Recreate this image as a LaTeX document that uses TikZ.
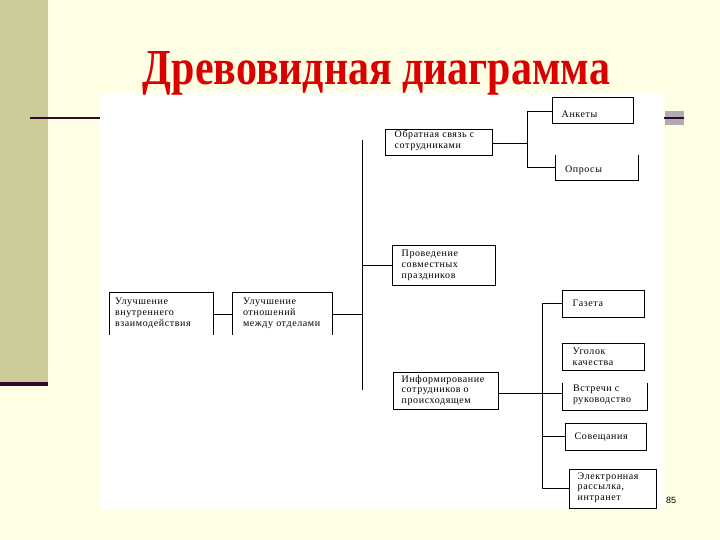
\documentclass[tikz,border=0pt]{standalone}
\usepackage{graphicx}
\usepackage{fontspec}
\setmainfont{Liberation Serif}
\newfontfamily\boxfont[LetterSpace=6]{Liberation Serif}
\newfontfamily\numfont{Liberation Sans}
\definecolor{bgyellow}{RGB}{255,255,229}
\definecolor{oliveC}{RGB}{204,204,153}
\definecolor{darkbar}{RGB}{45,10,45}
\definecolor{graybar}{RGB}{178,170,178}
\definecolor{titlered}{RGB}{218,0,0}
\tikzset{
  box/.style={draw=black, line width=1pt, inner sep=0pt},
  obox/.style={inner sep=0pt},
  open/.style={draw=black, line width=1pt},
  conn/.style={draw=black, line width=0.9pt},
  lbl/.style={font=\boxfont\fontsize{10}{11}\selectfont, align=left, inner sep=0pt, anchor=west},
  ttl/.style={font=\bfseries, text=titlered, inner sep=0pt}
}
\begin{document}
\begin{tikzpicture}[x=1pt,y=-1pt]
\useasboundingbox (0,0) rectangle (720,540);
% slide background
\fill[bgyellow] (0,0) rectangle (720,540);
\fill[oliveC] (0,0) rectangle (48,382);
\fill[darkbar] (0,382) rectangle (48,386);
\fill[graybar] (665,111) rectangle (684,125);
\draw[darkbar, line width=2.5pt] (30,118) -- (684,118);
\fill[white] (100,93) rectangle (664,510);
% title
\node[ttl, anchor=base] (title) at (376.5,85) {\resizebox{467pt}{33pt}{Древовидная диаграмма}};

% boxes
\node[obox, minimum width=103pt, minimum height=42pt] (u1) at (161.5,314) {};
\node[obox, minimum width=99pt, minimum height=42pt] (u2) at (282.5,314) {};
\node[box, minimum width=107pt, minimum height=26pt] (obr) at (438.5,143) {};
\node[box, minimum width=81pt, minimum height=26pt] (ank) at (592.5,111) {};
\node[obox, minimum width=82pt, minimum height=25pt] (opr) at (597,167.5) {};
\node[box, minimum width=103pt, minimum height=40pt] (prov) at (443.5,265) {};
\node[box, minimum width=82pt, minimum height=27pt] (gaz) at (603,303.5) {};
\node[box, minimum width=82pt, minimum height=27pt] (ugol) at (603,356.5) {};
\node[obox, minimum width=84pt, minimum height=27pt] (vstr) at (605,396.5) {};
\node[box, minimum width=105pt, minimum height=37pt] (inf) at (445.5,390.5) {};
\node[box, minimum width=81pt, minimum height=27pt] (sov) at (605.5,436.5) {};
\node[box, minimum width=87pt, minimum height=39pt] (el) at (612.5,488.5) {};

% open boxes (cropped sides)
\draw[open] (u1.south west) -- (u1.north west) -- (u1.north east) -- (u1.south east);
\draw[open] (u2.south west) -- (u2.north west) -- (u2.north east) -- (u2.south east);
\draw[open] (opr.north west) -- (opr.south west) -- (opr.south east) -- (opr.north east);
\draw[open] (vstr.north west) -- (vstr.south west) -- (vstr.south east) -- (vstr.north east);

% labels
\node[lbl] (tu1) at ([xshift=5pt,yshift=1pt]u1.west) {Улучшение\\внутреннего\\взаимодействия};
\node[lbl] (tu2) at ([xshift=10pt,yshift=1pt]u2.west) {Улучшение\\отношений\\между отделами};
\node[lbl] (tobr) at ([xshift=10pt,yshift=2pt]obr.west) {Обратная связь с\\сотрудниками};
\node[lbl] (tank) at ([xshift=10pt,yshift=-3pt]ank.west) {Анкеты};
\node[lbl] (topr) at ([xshift=9pt,yshift=-3pt]opr.west) {Опросы};
\node[lbl] (tprov) at ([xshift=10pt]prov.west) {Проведение\\совместных\\праздников};
\node[lbl] (tgaz) at ([xshift=11pt]gaz.west) {Газета};
\node[lbl] (tugol) at ([xshift=11pt]ugol.west) {Уголок\\качества};
\node[lbl] (tvstr) at ([xshift=10pt,yshift=2pt]vstr.west) {Встречи с\\руководство};
\node[lbl, font=\boxfont\fontsize{10}{10.5}\selectfont] (tinf) at ([xshift=9pt]inf.west) {Информирование\\сотрудников о\\происходящем};
\node[lbl] (tsov) at ([xshift=10pt,yshift=-1pt]sov.west) {Совещания};
\node[lbl, font=\boxfont\fontsize{10}{10.5}\selectfont] (tel) at ([xshift=9pt,yshift=1pt]el.west) {Электронная\\рассылка,\\интранет};

% page number
\node[font=\numfont\fontsize{9}{10}\selectfont, inner sep=0pt] (pnum) at (671,500) {85};

% connectors
\coordinate (t1) at (362,140);
\coordinate (t2) at (362,390);
\coordinate (b1) at (527,0);
\coordinate (b2) at (542,0);
\draw[conn] (t1) -- (t2);
\draw[conn] (u1.east) -- (u2.west);
\draw[conn] (u2.east) -- (u2.east -| t1);
\draw[conn] (prov.west -| t1) -- (prov.west);
\draw[conn] (obr.east) -- (obr.east -| b1);
\draw[conn] (ank.west) -- (ank.west -| b1) -- (opr.west -| b1) -- (opr.west);
\draw[conn] (gaz.west) -- (gaz.west -| b2) -- (el.west -| b2) -- (el.west);
\draw[conn] (sov.west -| b2) -- (sov.west);
\draw[conn] ([yshift=-3pt]inf.east) -- ([yshift=-3pt]inf.east -| vstr.west);
\end{tikzpicture}
\end{document}
